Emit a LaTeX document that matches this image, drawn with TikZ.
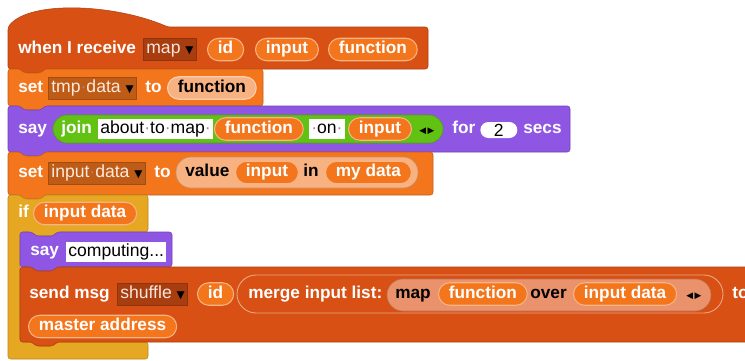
\documentclass[tikz,border=0pt]{standalone}
\usepackage{fontspec}
\setmainfont{Liberation Sans}
\newfontfamily\symfont{DejaVu Sans}
\usetikzlibrary{shapes.misc}

\definecolor{evtred}{RGB}{216,80,20}
\definecolor{varorange}{RGB}{243,118,29}
\definecolor{looksviolet}{RGB}{143,86,227}
\definecolor{opgreen}{RGB}{98,194,19}
\definecolor{ctrlgold}{RGB}{230,168,34}
\definecolor{zebra}{RGB}{248,178,130}
\definecolor{zebrared}{RGB}{234,146,108}
\definecolor{spacedot}{RGB}{175,125,150}

\newcommand{\spdot}{{\color{spacedot}\textperiodcentered}}
\newcommand{\ddarrow}{{\symfont\fontsize{6}{6}\selectfont\color{black}▼}}
\newcommand{\lrarrows}{{\symfont\fontsize{5}{5}\selectfont ◀\,▶}}

% command block: colour, left, top, right, bottom (notch on top, tab below)
\newcommand{\cmdblock}[5]{%
  \filldraw[fill=#1, draw=#1!80!black, line width=0.3pt, rounded corners=1.5pt]
    (#2,#3) -- ++(12,0) -- ++(4,4) -- ++(17,0) -- ++(4,-4) -- (#4,#3) -- (#4,#5)
    -- (#2+37,#5) -- ++(-4,4) -- ++(-17,0) -- ++(-4,-4) -- (#2,#5) -- cycle;}

\tikzset{
  lbl/.style={anchor=west, inner sep=0pt, text=white, text height=6.8pt, text depth=1.8pt},
  dark/.style={lbl, text=black},
  rep/.style={rounded rectangle, anchor=west, fill=varorange, draw=varorange!55!white,
    line width=0.6pt, text=white, inner xsep=0.15cm, inner ysep=0pt,
    minimum height=0.45cm, text height=6.8pt, text depth=1.8pt},
  zrep/.style={rep, fill=zebra, draw=zebra!60!white, text=black},
  menu/.style={anchor=west, draw=#1!65!black, fill=#1!78!black, text=white!85!#1,
    font=\mdseries, inner xsep=0.06cm, inner ysep=0pt, minimum height=0.44cm,
    text height=6.8pt, text depth=1.8pt},
  slot/.style={anchor=west, fill=white, text=black, font=\mdseries, inner xsep=0.04cm,
    inner ysep=0pt, minimum height=0.40cm, text height=6.8pt, text depth=1.8pt},
}

\begin{document}
\begin{tikzpicture}[x=0.02cm, y=-0.02cm, font=\fontsize{9.8}{11}\selectfont\bfseries]
   \useasboundingbox (0,0) rectangle (745,360);
   \clip (0,0) rectangle (745,360);

   % hat block
   \filldraw[fill=evtred, draw=evtred!80!black, line width=0.3pt, rounded corners=1.5pt]
     (8,69) -- (8,27) .. controls (30,0) and (115,4) .. (168,27) -- (428,27) -- (428,69)
     -- (45,69) -- ++(-4,4) -- ++(-17,0) -- ++(-4,-4) -- cycle;
   \cmdblock{varorange}{8}{69}{263}{106}
   \cmdblock{looksviolet}{8}{106}{570}{152}
   \cmdblock{varorange}{8}{152}{433}{195}
   % if, with its C slot
   \filldraw[fill=ctrlgold, draw=ctrlgold!80!black, line width=0.3pt, rounded corners=1.5pt]
     (8,195) -- (20,195) -- (24,199) -- (41,199) -- (45,195) -- (148,195) -- (148,232)
     -- (57,232) -- (53,236) -- (36,236) -- (32,232) -- (20,232) -- (20,342)
     -- (32,342) -- (36,346) -- (53,346) -- (57,342) -- (148,342) -- (148,359)
     -- (8,359) -- cycle;
   \cmdblock{looksviolet}{20}{232}{172}{267}
   \cmdblock{evtred}{20}{267}{770}{342}

   % reporters holding other reporters
   \filldraw[fill=opgreen, draw=opgreen!80!black, line width=0.3pt, rounded corners=0.28cm]
     (53,115) rectangle (443,143);
   \filldraw[fill=zebra, draw=zebra!80!black, line width=0.3pt, rounded corners=0.3cm]
     (176,157) rectangle (418,188);
   \filldraw[fill=evtred, draw=evtred!50!white, line width=0.5pt, rounded corners=0.38cm]
     (237,275) rectangle (723,313);
   \filldraw[fill=zebrared, draw=zebrared!80!black, line width=0.3pt, rounded corners=0.32cm]
     (387,279) rectangle (711,311);

   % when I receive
   \node[lbl] (recv) at (18,49.5) {when I receive};
   \node[menu=evtred] (msgname) at (143,49.5) {map \ddarrow};
   \node[rep] (idvar) at (207,49.5) {id};
   \node[rep] (inputvar) at (255,49.5) {input};
   \node[rep] (funcvar) at (328,49.5) {function};

   % set tmp data
   \node[lbl] (set1) at (18,88) {set};
   \node[menu=varorange] (tmpdata) at (48,88) {tmp\spdot data \ddarrow};
   \node[lbl] (to1) at (145,88) {to};
   \node[zrep] (funcval) at (167,88) {function};

   % say join ... for 2 secs
   \node[lbl] (say1) at (18,129) {say};
   \node[lbl] (join) at (61,129) {join};
   \node[slot] (abouttxt) at (98,129) {about\spdot to\spdot map\spdot};
   \node[rep] (funcjoin) at (214,129) {function};
   \node[slot] (ontxt) at (309,129) {\spdot on\spdot};
   \node[rep] (inputjoin) at (348,129) {input};
   \node[dark] (joinarrows) at (419,129) {\lrarrows};
   \node[lbl] (for) at (452,129) {for};
   \node[rounded rectangle, anchor=west, fill=white, text=black, font=\mdseries,
     minimum width=0.74cm, minimum height=0.32cm, inner sep=0pt] (secs2) at (480,130) {2};
   \node[lbl] (secs) at (523,129) {secs};

   % set input data
   \node[lbl] (set2) at (18,173) {set};
   \node[menu=varorange] (inputdatavar) at (48,173) {input\spdot data \ddarrow};
   \node[lbl] (to2) at (154,173) {to};
   \node[dark] (value) at (185,172.5) {value};
   \node[rep] (inputkey) at (235,172.5) {input};
   \node[dark] (in) at (303,172.5) {in};
   \node[rep] (mydata) at (325,172.5) {my data};

   % if input data
   \node[lbl] (if) at (18,213.5) {if};
   \node[rep] (cond) at (33,213.5) {input data};
   \node[lbl] (say2) at (30,251) {say};
   \node[slot] (comptxt) at (66,252) {computing...};

   % send msg shuffle
   \node[lbl] (sendmsg) at (29,294) {send msg};
   \node[menu=evtred] (shuffle) at (117,294) {shuffle \ddarrow};
   \node[rep] (idsend) at (197,294) {id};
   \node[lbl] (merge) at (248,294) {merge input list:};
   \node[dark] (map) at (395,294) {map};
   \node[rep] (funcmap) at (438,294) {function};
   \node[dark] (over) at (530,294) {over};
   \node[rep] (inputdata) at (573,294) {input data};
   \node[dark] (maparrows) at (686,294) {\lrarrows};
   \node[lbl] (to3) at (732,294) {to};
   \node[rep] (master) at (28,326.5) {master address};
\end{tikzpicture}
\end{document}
